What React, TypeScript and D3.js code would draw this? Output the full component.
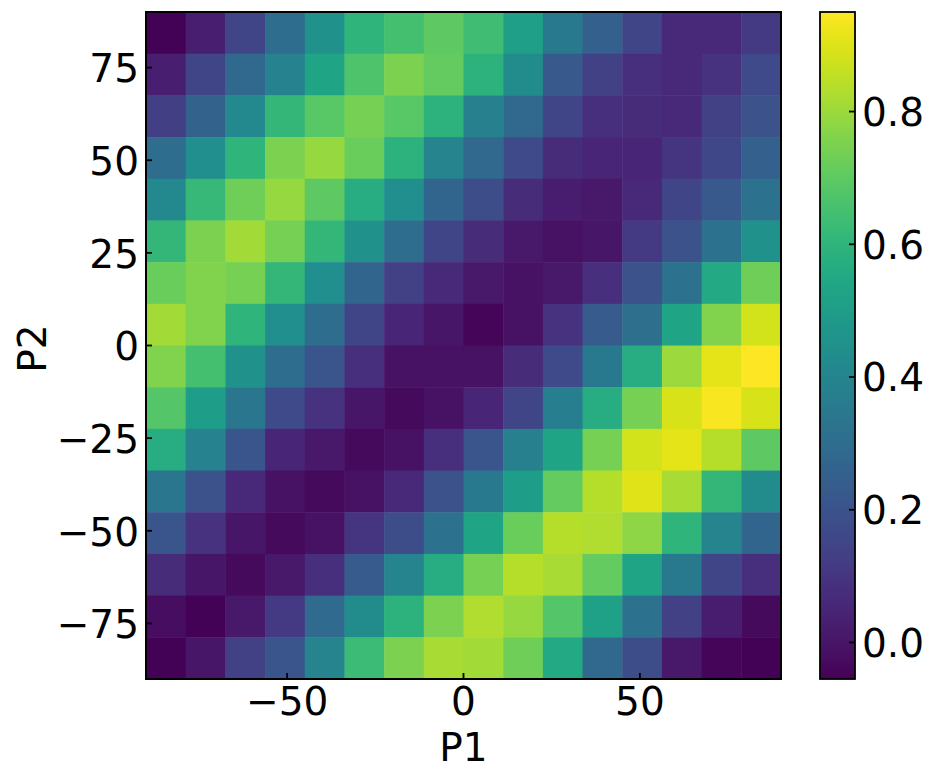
import React from "react";
import * as d3 from "d3";

// P1 bin centres (left to right) and P2 bin centres (top to bottom)
const p1Centers = [-84.375, -73.125, -61.875, -50.625, -39.375, -28.125, -16.875, -5.625, 5.625, 16.875, 28.125, 39.375, 50.625, 61.875, 73.125, 84.375];
const p2Centers = [84.375, 73.125, 61.875, 50.625, 39.375, 28.125, 16.875, 5.625, -5.625, -16.875, -28.125, -39.375, -50.625, -61.875, -73.125, -84.375];
const binSize = 11.25;

// heatmap values, one row per P2 bin (top to bottom)
const values: number[][] = [
  [-0.05, 0.03, 0.15, 0.30, 0.45, 0.60, 0.65, 0.70, 0.64, 0.51, 0.35, 0.25, 0.15, 0.06, 0.06, 0.11],
  [0.03, 0.15, 0.28, 0.39, 0.53, 0.67, 0.75, 0.71, 0.59, 0.43, 0.22, 0.14, 0.08, 0.06, 0.09, 0.17],
  [0.13, 0.26, 0.42, 0.61, 0.69, 0.74, 0.69, 0.59, 0.38, 0.28, 0.15, 0.08, 0.07, 0.06, 0.14, 0.20],
  [0.30, 0.44, 0.60, 0.75, 0.79, 0.72, 0.59, 0.40, 0.28, 0.17, 0.07, 0.05, 0.05, 0.10, 0.16, 0.25],
  [0.42, 0.62, 0.73, 0.79, 0.70, 0.57, 0.44, 0.27, 0.18, 0.07, 0.02, 0.01, 0.06, 0.15, 0.22, 0.32],
  [0.61, 0.75, 0.81, 0.74, 0.61, 0.45, 0.30, 0.15, 0.07, 0.01, -0.01, 0.00, 0.11, 0.20, 0.32, 0.45],
  [0.72, 0.76, 0.74, 0.61, 0.44, 0.27, 0.14, 0.06, 0.01, -0.01, 0.01, 0.08, 0.20, 0.32, 0.55, 0.73],
  [0.81, 0.76, 0.60, 0.44, 0.30, 0.15, 0.05, 0.00, -0.04, -0.01, 0.09, 0.23, 0.31, 0.53, 0.76, 0.88],
  [0.76, 0.65, 0.45, 0.30, 0.21, 0.08, -0.01, -0.01, -0.01, 0.07, 0.17, 0.35, 0.57, 0.80, 0.91, 0.95],
  [0.68, 0.50, 0.34, 0.17, 0.09, 0.00, -0.03, -0.01, 0.05, 0.15, 0.37, 0.57, 0.74, 0.89, 0.94, 0.89],
  [0.57, 0.39, 0.21, 0.05, 0.01, -0.03, -0.01, 0.08, 0.21, 0.38, 0.53, 0.74, 0.88, 0.91, 0.84, 0.70],
  [0.34, 0.20, 0.06, -0.01, -0.03, -0.01, 0.06, 0.20, 0.35, 0.50, 0.71, 0.84, 0.90, 0.82, 0.61, 0.43],
  [0.21, 0.09, 0.00, -0.03, -0.01, 0.10, 0.18, 0.32, 0.53, 0.72, 0.84, 0.83, 0.78, 0.60, 0.40, 0.27],
  [0.07, 0.00, -0.03, 0.01, 0.08, 0.23, 0.40, 0.57, 0.74, 0.84, 0.82, 0.71, 0.53, 0.35, 0.15, 0.08],
  [-0.02, -0.05, 0.01, 0.11, 0.29, 0.43, 0.59, 0.75, 0.83, 0.79, 0.68, 0.52, 0.32, 0.14, 0.02, -0.03],
  [-0.05, 0.00, 0.14, 0.21, 0.40, 0.63, 0.75, 0.82, 0.81, 0.73, 0.55, 0.28, 0.18, 0.01, -0.04, -0.05],
];

const xTicks = [-50, 0, 50];
const yTicks = [75, 50, 25, 0, -25, -50, -75];
const cbTicks = [0.0, 0.2, 0.4, 0.6, 0.8];
const cbDomain: [number, number] = [-0.055, 0.95];
const axisDomain: [number, number] = [-90, 90];

const FONT = "DejaVu Sans, sans-serif";
const FS = 39;

const fmt = (t: number) => (t < 0 ? "\u2212" : "") + Math.abs(t);

export default function App() {
  const W = 936, H = 781;
  const L = 146, R = 781, T = 12, B = 679;
  const x = d3.scaleLinear().domain(axisDomain).range([L, R]);
  const y = d3.scaleLinear().domain(axisDomain).range([B, T]);
  const color = d3.scaleSequential(d3.interpolateViridis).domain(cbDomain);

  const cbL = 820, cbR = 855;
  const cb = d3.scaleLinear().domain(cbDomain).range([B, T]);
  const stops = d3.range(0, 1.0001, 0.02);

  const cells: JSX.Element[] = [];
  values.forEach((row, i) => {
    row.forEach((v, j) => {
      const cx = p1Centers[j], cy = p2Centers[i];
      const x0 = x(cx - binSize / 2), x1 = x(cx + binSize / 2);
      const y0 = y(cy + binSize / 2), y1 = y(cy - binSize / 2);
      cells.push(
        <rect key={`${i}-${j}`} x={x0} y={y0} width={x1 - x0 + 0.5} height={y1 - y0 + 0.5} fill={color(v)} />
      );
    });
  });

  return (
    <svg width={W} height={H} style={{ position: "absolute", left: 0, top: 0 }} fontFamily={FONT}>
      <defs>
        <linearGradient id="cbgrad" x1="0" y1="1" x2="0" y2="0">
          {stops.map((s) => (
            <stop key={s} offset={s} stopColor={color(cbDomain[0] + s * (cbDomain[1] - cbDomain[0]))} />
          ))}
        </linearGradient>
      </defs>
      <rect x={0} y={0} width={W} height={H} fill="#fff" />
      <g>{cells}</g>
      {xTicks.map((t) => (
        <g key={`xt${t}`}>
          <line x1={x(t)} x2={x(t)} y1={B} y2={B - 6} stroke="#000" strokeWidth={1.8} />
          <text x={x(t)} y={715} fontSize={FS} textAnchor="middle" fill="#000">{fmt(t)}</text>
        </g>
      ))}
      {yTicks.map((t) => (
        <g key={`yt${t}`}>
          <line x1={L} x2={L + 6} y1={y(t)} y2={y(t)} stroke="#000" strokeWidth={1.8} />
          <text x={L - 7} y={y(t)} dy="0.38em" fontSize={FS} textAnchor="end" fill="#000">{fmt(t)}</text>
        </g>
      ))}
      <rect x={L} y={T} width={R - L} height={B - T} fill="none" stroke="#000" strokeWidth={2} />
      <text x={(L + R) / 2} y={761} fontSize={FS} textAnchor="middle" fill="#000">P1</text>
      <text transform={`translate(46, ${(T + B) / 2 + 3}) rotate(-90)`} fontSize={FS} textAnchor="middle" fill="#000">P2</text>

      <rect x={cbL} y={T} width={cbR - cbL} height={B - T} fill="url(#cbgrad)" />
      {cbTicks.map((t) => (
        <g key={`cb${t}`}>
          <line x1={cbR - 6} x2={cbR} y1={cb(t)} y2={cb(t)} stroke="#000" strokeWidth={1.8} />
          <text x={cbR + 7} y={cb(t)} dy="0.37em" fontSize={FS} textAnchor="start" fill="#000">{t.toFixed(1)}</text>
        </g>
      ))}
      <rect x={cbL} y={T} width={cbR - cbL} height={B - T} fill="none" stroke="#000" strokeWidth={1.8} />
    </svg>
  );
}
